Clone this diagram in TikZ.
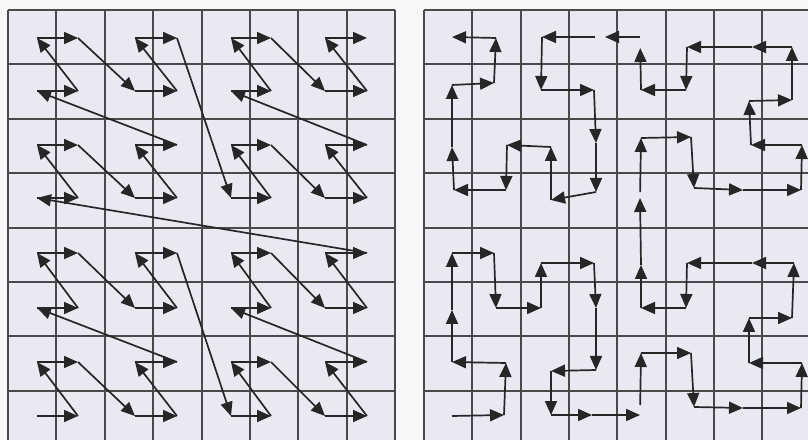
\documentclass[tikz,border=0pt]{standalone}
\usepackage{tikz}
\usepackage{xcolor}
\usetikzlibrary{arrows.meta}
\definecolor{paper}{HTML}{F7F7F9}
\definecolor{cellbg}{HTML}{E9EAF1}
\definecolor{gridcol}{HTML}{4A4A4A}
\definecolor{curvecol}{HTML}{262626}

\begin{document}
\begin{tikzpicture}[
  x=1bp, y=-1bp,
  gridline/.style={draw=gridcol, line width=2bp},
  curve/.style={-{Triangle[length=14bp, width=12bp]}, draw=curvecol, line width=1.7bp},
  hseg17/.style={shorten <=10bp},
  hseg33/.style={shorten <=6bp},
  hseg47/.style={shorten >=11bp},
  hseg49/.style={shorten <=10bp}
]
\useasboundingbox (0,0) rectangle (808,440);
\clip (0,0) rectangle (808,440);
\fill[paper] (0,0) rectangle (808,440);

% the two 8x8 grids
\foreach \gx/\gw in {8/48.4, 424/48.3} {
  \fill[cellbg] (\gx,10) rectangle ({\gx+8*\gw},445.2);
  \foreach \k in {0,...,8} {
    \pgfmathtruncatemacro\lx{round(\gx+\k*\gw)}
    \pgfmathtruncatemacro\ly{round(10+\k*54.4)}
    \draw[gridline] (\lx,10) -- (\lx,446);
    \draw[gridline] (\gx,\ly) -- ({\gx+8*\gw},\ly);
  }
}

% Z-order curve
\foreach \n in {0,...,63} {
  \pgfmathtruncatemacro\zc{mod(\n,2)+2*mod(div(\n,4),2)+4*mod(div(\n,16),2)}
  \pgfmathtruncatemacro\zr{mod(div(\n,2),2)+2*mod(div(\n,8),2)+4*div(\n,32)}
  \pgfmathsetmacro\zx{{37,78,135,177,231,271,325,367}[\zc]}
  \pgfmathsetmacro\zy{{416,362,308,253,198,145,91,38}[\zr]}
  \coordinate (z\n) at (\zx,\zy);
}
\foreach \n in {1,...,63} {
  \pgfmathtruncatemacro\m{\n-1}
  \draw[curve] (z\m) -- (z\n);
}

% Hilbert curve
\foreach \hx/\hy [count=\i] in {452/416, 504/415, 506/363, 452/362,
    452/310, 452/253, 494/253, 496/308, 541/308, 541/263, 594/263, 596/308,
    596/370, 551/371, 551/415, 592/415, 640/415, 641/353, 691/353, 694/407,
    743/408, 801/408, 802/363, 749/363, 749/318, 792/318, 794/263, 752/263,
    687/263, 686/308, 641/308, 641/265, 640/198, 641/138, 691/137, 694/188,
    743/190, 801/190, 802/145, 751/145, 749/101, 792/100, 792/47, 752/47,
    687/47, 686/90, 641/90, 640/37, 605/37, 542/37, 541/90, 594/90,
    596/143, 596/192, 551/200, 551/147, 507/145, 506/190, 454/190, 452/147,
    452/85, 494/83, 496/38, 452/37}
  \coordinate (h\i) at (\hx,\hy);
\foreach \i in {1,...,63} {
  \pgfmathtruncatemacro\j{\i+1}
  \draw[curve, hseg\i/.try] (h\i) -- (h\j);
}
\end{tikzpicture}
\end{document}
